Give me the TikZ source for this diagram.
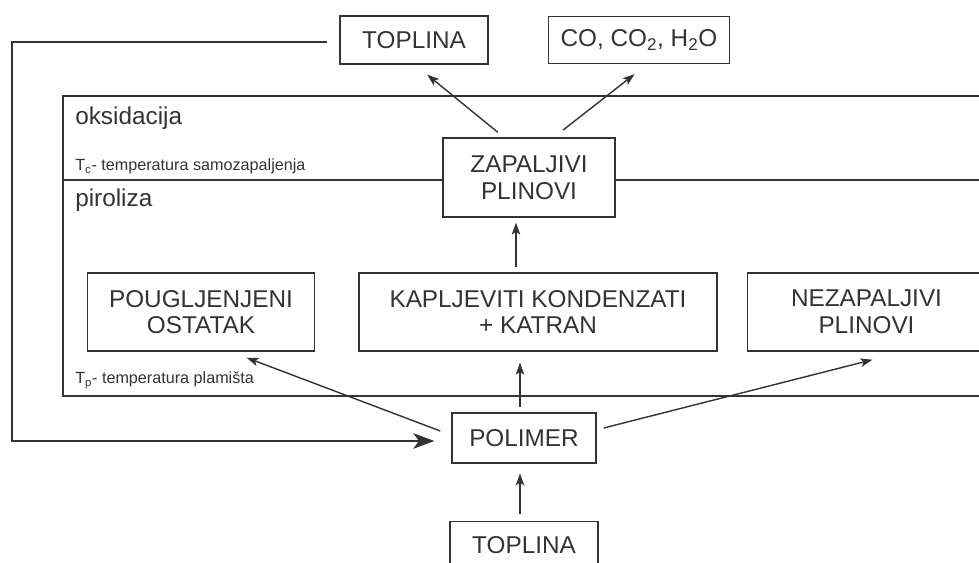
\documentclass[tikz,border=0pt]{standalone}
\usepackage{fontspec}
\setmainfont{Liberation Sans}
\usetikzlibrary{positioning,arrows.meta}
\definecolor{tamnosiva}{HTML}{333333}
\tikzstyle{blok}=[
	rectangle,
	draw=tamnosiva,
	line width=1pt,
	text centered,
	align=center,
	text=tamnosiva,
	inner sep=0pt,
	font=\fontsize{17.3}{19}\selectfont]
\tikzstyle{oznaka}=[
	inner sep=0pt,
	anchor=base west,
	text=tamnosiva,
	font=\fontsize{17.3}{19}\selectfont]
\tikzstyle{biljeska}=[oznaka, font=\fontsize{11.5}{13}\selectfont]
\tikzstyle{strelica}=[
	draw=tamnosiva,
	line width=1pt,
	-{Stealth[length=8.5pt,width=6pt,inset=2pt]}]

\begin{document}
\begin{tikzpicture}[x=0.025cm, y=-0.025cm]
		\clip (0,0) rectangle (979,563);

		\node (ToplinaGore) [blok, minimum width=3.7cm, minimum height=1.2cm] at (414,40) {TOPLINA};
		\node (Produkti) [blok, minimum width=4.525cm, minimum height=1.175cm, right=1.475cm of ToplinaGore] {CO, CO\textsubscript{2}, H\textsubscript{2}O};

		\node (Zapaljivi) [blok, minimum width=4.3cm, minimum height=1.975cm] at (529,177.5) {ZAPALJIVI\\PLINOVI};

		\node (Kapljeviti) [blok, minimum width=8.95cm, minimum height=1.95cm] at (538,312) {KAPLJEVITI KONDENZATI\\+ KATRAN};
		\node (Pougljenjeni) [blok, minimum width=5.675cm, minimum height=1.95cm, left=1.075cm of Kapljeviti] {POUGLJENJENI\\OSTATAK};
		\node (Nezapaljivi) [blok, minimum width=5.95cm, minimum height=1.95cm, right=0.725cm of Kapljeviti] {NEZAPALJIVI\\PLINOVI};

		\node (Polimer) [blok, minimum width=3.6cm, minimum height=1.25cm] at (524,438) {POLIMER};
		\node (ToplinaDolje) [blok, minimum width=3.7cm, minimum height=1.2cm, below=1.425cm of Polimer] {TOPLINA};

		% zone
		\coordinate (GoreLijevo) at (63,96);
		\coordinate (DoljeLijevo) at (63,396);
		\coordinate (Granica) at (63,180);
		\draw[tamnosiva, line width=1pt] (979,96) -- (GoreLijevo) -- (DoljeLijevo) -- (979,396);
		\draw[tamnosiva, line width=1pt] (Granica) -- (Granica -| Zapaljivi.west);
		\draw[tamnosiva, line width=1pt] (Zapaljivi.east |- Granica) -- (979,180);

		\node (Oksidacija) [oznaka] at (75,125) {oksidacija};
		\node (Tc) [biljeska] at (75,171) {T\textsubscript{c}- temperatura samozapaljenja};
		\node (Piroliza) [oznaka] at (75,207) {piroliza};
		\node (Tp) [biljeska] at (75,384) {T\textsubscript{p}- temperatura plamišta};

		\draw[strelica] ([xshift=-0.78cm,yshift=0.125cm]Zapaljivi.north) -- ([xshift=0.33cm,yshift=-0.25cm]ToplinaGore.south);
		\draw[strelica] ([xshift=0.85cm,yshift=0.18cm]Zapaljivi.north) -- ([xshift=-0.11cm,yshift=-0.25cm]Produkti.south);
		\draw[strelica, shorten >=3.5pt] ([xshift=-0.55cm,yshift=0.125cm]Kapljeviti.north) -- ([xshift=-0.55cm]Kapljeviti.north |- Zapaljivi.south);
		\draw[strelica, shorten >=7.8pt] ([xshift=-0.1cm,yshift=0.125cm]Polimer.north) -- ([xshift=-0.1cm]Polimer.north |- Kapljeviti.south);
		\draw[strelica, shorten >=7pt] ([xshift=-0.1cm,yshift=0.175cm]ToplinaDolje.north) -- ([xshift=-0.1cm]ToplinaDolje.north |- Polimer.south);
		\draw[strelica] ([xshift=-0.275cm,yshift=0.175cm]Polimer.west) -- ([xshift=1.14cm,yshift=-0.15cm]Pougljenjeni.south);
		\draw[strelica] ([xshift=0.175cm,yshift=0.25cm]Polimer.east) -- ([xshift=0.15cm,yshift=-0.2cm]Nezapaljivi.south);

		\coordinate (Kut) at (12,240);
		\draw[strelica, -{Stealth[length=15pt,width=11pt,inset=4pt]}, shorten <=8.5pt, shorten >=12pt] ([yshift=-0.05cm]ToplinaGore.west) -| (Kut) |- ([yshift=-0.075cm]Polimer.west);

	\end{tikzpicture}
\end{document}
